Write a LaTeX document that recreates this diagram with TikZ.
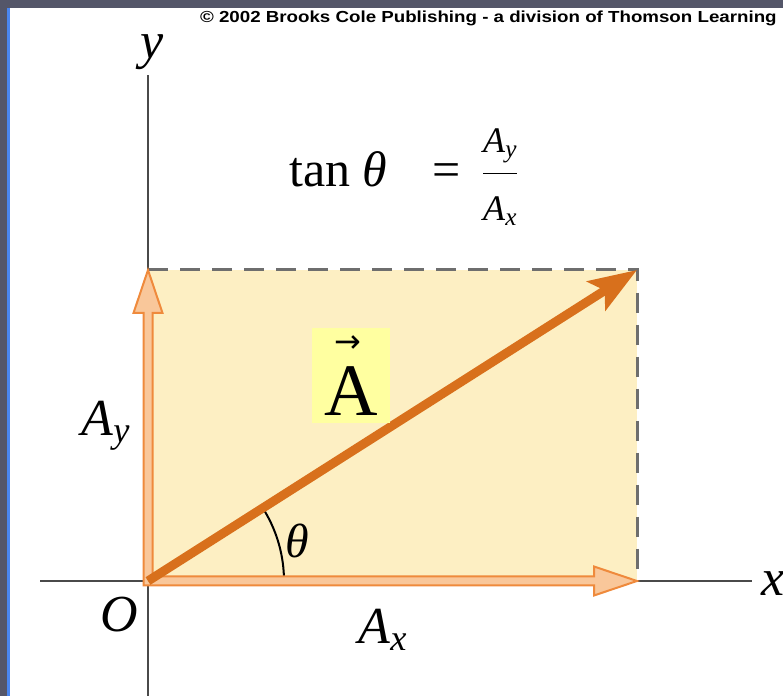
\documentclass[tikz,border=0pt]{standalone}
\usepackage{fontspec}
\setmainfont{Liberation Serif}
\newfontfamily\notefont{Liberation Sans}
\newfontfamily\pfeilfont{DejaVu Sans}
\usetikzlibrary{arrows.meta,calc}

\newcommand{\bruchschrift}{\fontsize{18}{20}\selectfont}

\begin{document}
\begin{tikzpicture}[x=0.5pt, y=0.5pt,
    lbl/.style={inner sep=0pt, font=\fontsize{26}{30}\selectfont},
    achslinie/.style={achse, line width=1.2pt},
    komp/.style={fill=kompfill, draw=kompline, line width=1pt},
  ]

  % --- Farben ---
  \definecolor{rahmen}{HTML}{545669}     % Rahmen oben/links
  \definecolor{rahmenblau}{HTML}{4A86F0} % blaue Kante
  \definecolor{feld}{HTML}{FDEFC3}       % Rechteck
  \definecolor{vektor}{HTML}{D8701C}     % Vektor A
  \definecolor{kompfill}{HTML}{F9C79A}   % Komponenten innen
  \definecolor{kompline}{HTML}{EF8A3C}   % Komponenten Rand
  \definecolor{strich}{HTML}{6E6E6E}     % gestrichelt
  \definecolor{achse}{HTML}{4A4A4A}      % Achsen
  \definecolor{marker}{HTML}{FFFFA0}     % Kasten um A

  \useasboundingbox (0,0) rectangle (783,696);

  % --- Rahmen ---
  \fill[rahmen] (0,0) rectangle (783,696);
  \fill[white] (10,0) rectangle (783,688);
  \fill[rahmenblau] (7,0) rectangle (10,688);

  % --- Punkte ---
  \coordinate (O)  at (148,115);
  \coordinate (Ax) at (637,115);
  \coordinate (Ay) at (148,426);
  \coordinate (P)  at (637,426);
  \coordinate (xmin) at (40,115);
  \coordinate (xmax) at (752,115);
  \coordinate (ymin) at (148,0);
  \coordinate (ymax) at (148,621);

  % --- Rechteck ---
  \fill[feld] (O) rectangle (P);
  \draw[strich, line width=1.5pt, dash pattern=on 10pt off 6pt] (Ay) -- (P) -- (Ax);

  % --- Achsen ---
  \draw[achslinie] (xmin) -- (xmax);
  \draw[achslinie] (ymin) -- (ymax);

  % --- Winkel ---
  \draw[line width=1pt] ($(O)+(136,0)$) arc[start angle=0, end angle=31, radius=136];

  % --- Komponenten (ein L-foermiger Umriss) ---
  \filldraw[komp]
    (Ay) -- ($(Ay)+(-14.5,-43)$) -- ($(Ay)+(-4.5,-43)$) -- ($(O)+(-4.5,-4.5)$)
    -- ($(Ax)+(-43,-4.5)$) -- ($(Ax)+(-43,-14.5)$) -- (Ax)
    -- ($(Ax)+(-43,14.5)$) -- ($(Ax)+(-43,4.5)$) -- ($(O)+(4.5,4.5)$)
    -- ($(Ay)+(4.5,-43)$) -- ($(Ay)+(14.5,-43)$) -- cycle;

  % --- Vektor A ---
  \draw[vektor, line width=4.5pt, -{Stealth[length=24pt, width=17pt, inset=5pt]}] (O) -- (P);

  % --- Beschriftungen ---
  \node[lbl] (ylab)  at (152,644) {\textit{y}};
  \node[lbl] (xlab)  at (773,112) {\textit{x}};
  \node[lbl] (olab)  at (119,81)  {\textit{O}};
  \node[lbl] (aylab) at (106,270) {\textit{A}\textsubscript{\textit{y}}};
  \node[lbl] (axlab) at (383,66)  {\textit{A}\textsubscript{\textit{x}}};
  \node[lbl, font=\fontsize{24}{28}\selectfont] (theta) at (297,155) {\textit{θ}};

  \node[fill=marker, minimum width=39pt, minimum height=47.5pt, inner sep=0pt,
        font=\fontsize{37}{40}\selectfont] (vecA) at (351,320.5)
    {\shortstack{\hspace*{-3pt}{\pfeilfont\fontsize{16}{16}\selectfont →}\\[4pt]A}};

  % tan-Formel
  \node[anchor=west, inner sep=0pt, font=\fontsize{25}{30}\selectfont] (tan) at (289,519)
    {tan \textit{θ}\hspace{0.9em}=\hspace{0.4em}$\displaystyle\frac{\mbox{\bruchschrift\textit{A}\textsubscript{\textit{y}}}}{\mbox{\bruchschrift\textit{A}\textsubscript{\textit{x}}}}$};

  % Copyright-Zeile
  \node[anchor=east, inner sep=0pt, font=\notefont\bfseries\fontsize{8}{9}\selectfont] (copy) at (777,678)
    {\scalebox{1.17}[1]{© 2002 Brooks Cole Publishing - a division of Thomson Learning}};

\end{tikzpicture}
\end{document}
